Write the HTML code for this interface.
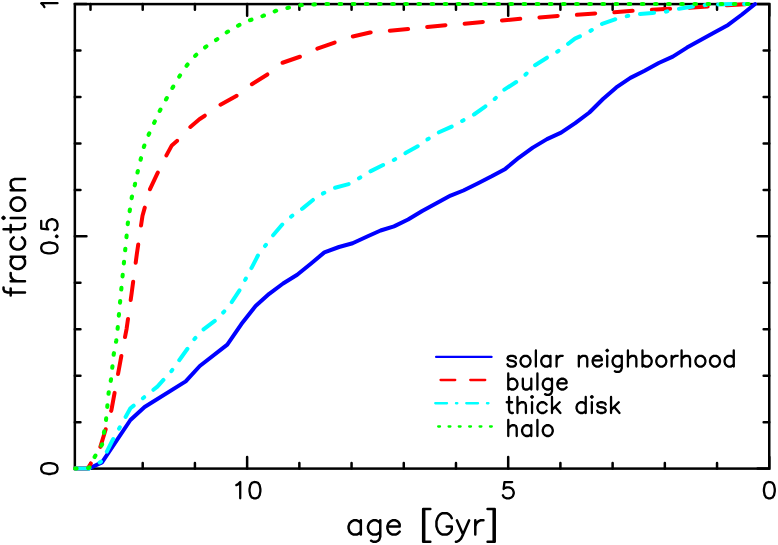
<!DOCTYPE html>
<html><head><meta charset="utf-8"><title>fraction vs age</title>
<style>
html,body{margin:0;padding:0;background:#fff;font-family:"Liberation Sans",sans-serif;}
svg{display:block;}
</style></head>
<body>
<svg width="778" height="545" viewBox="0 0 778 545">
<rect x="0" y="0" width="778" height="545" fill="#fff"/>
<!-- frame + ticks -->
<rect x="74.85" y="4.1" width="694.4" height="464.5" fill="none" stroke="#000" stroke-width="2.5"/>
<path d="M769.25,468.6v-11.6M769.25,4.1v11.6M717.04,468.6v-5.6M717.04,4.1v5.6M664.83,468.6v-5.6M664.83,4.1v5.6M612.62,468.6v-5.6M612.62,4.1v5.6M560.40,468.6v-5.6M560.40,4.1v5.6M508.19,468.6v-11.6M508.19,4.1v11.6M455.98,468.6v-5.6M455.98,4.1v5.6M403.77,468.6v-5.6M403.77,4.1v5.6M351.56,468.6v-5.6M351.56,4.1v5.6M299.35,468.6v-5.6M299.35,4.1v5.6M247.13,468.6v-11.6M247.13,4.1v11.6M194.92,468.6v-5.6M194.92,4.1v5.6M142.71,468.6v-5.6M142.71,4.1v5.6M90.50,468.6v-5.6M90.50,4.1v5.6M74.85,468.60h11.6M769.25,468.60h-11.6M74.85,422.15h5.6M769.25,422.15h-5.6M74.85,375.70h5.6M769.25,375.70h-5.6M74.85,329.25h5.6M769.25,329.25h-5.6M74.85,282.80h5.6M769.25,282.80h-5.6M74.85,236.35h11.6M769.25,236.35h-11.6M74.85,189.90h5.6M769.25,189.90h-5.6M74.85,143.45h5.6M769.25,143.45h-5.6M74.85,97.00h5.6M769.25,97.00h-5.6M74.85,50.55h5.6M769.25,50.55h-5.6M74.85,4.10h11.6M769.25,4.10h-11.6" fill="none" stroke="#000" stroke-width="2.5" stroke-linecap="round"/>
<!-- curves -->
<g fill="none" stroke-linejoin="round" stroke-linecap="round" stroke-width="4">
<polyline points="75.0,468.5 89.0,468.5 102.0,462.4 130.4,420.0 144.6,407.0 185.7,381.4 199.8,366.0 227.3,344.7 241.4,324.1 255.6,306.1 269.2,293.8 283.1,283.5 297.2,274.8 310.8,263.7 324.4,252.4 339.0,247.0 352.6,243.3 367.2,236.5 380.6,230.5 394.0,226.4 408.1,219.5 422.2,211.0 436.4,203.3 450.6,195.6 463.4,190.5 477.6,183.5 491.7,176.3 505.3,168.9 518.7,157.8 532.8,147.6 547.0,139.1 561.1,132.6 575.2,123.1 589.4,112.5 603.0,99.0 616.3,87.4 630.4,77.9 644.6,70.7 658.7,63.0 672.8,56.6 687.0,47.6 701.1,39.8 715.2,32.1 728.1,24.9 742.0,14.5 755.1,4.0" stroke="#0000ff"/>
<polyline points="75.0,468.5 87.0,468.5 89.3,466.0 100.0,448.0 105.5,430.0 111.5,409.7 121.4,355.7 126.6,328.8 131.7,292.8 136.8,254.3 142.5,215.7 149.9,189.4 157.4,173.4 166.4,155.4 171.8,145.4 176.9,141.0 189.6,127.6 199.4,119.2 204.4,116.0 220.2,104.8 236.3,96.0 251.4,84.5 267.5,74.4 281.8,63.0 300.6,56.5 317.0,48.8 335.0,42.4 352.5,36.5 370.0,32.5 389.3,30.8 408.6,29.0 426.6,27.0 445.8,25.2 463.8,23.9 483.1,21.9 501.1,20.6 520.4,18.8 538.4,17.5 559.0,15.9 576.4,14.9 595.7,13.4 613.7,12.3 633.0,10.8 651.0,9.8 669.0,8.8 688.3,7.8 708.8,6.5 725.5,5.4 748.0,4.2 755.0,4.1" stroke="#ff0000" stroke-dasharray="18.35 19.2"/>
<polyline points="75.0,468.5 89.0,468.5 102.1,461.0 112.4,440.5 130.4,408.3 157.4,386.6 171.5,371.0 194.6,338.8 202.9,329.8 215.7,320.2 223.9,311.8 231.6,302.3 240.1,289.4 245.3,279.6 251.7,267.6 258.1,255.2 265.6,245.2 273.0,235.4 282.3,224.5 291.1,216.6 302.7,208.4 313.0,199.9 323.8,193.0 334.8,187.8 349.0,184.0 359.3,178.1 370.8,171.1 383.7,164.7 394.5,159.6 405.5,153.1 418.4,145.9 428.1,139.0 439.0,132.3 452.5,126.2 462.6,120.7 474.0,114.5 484.8,106.8 494.7,99.0 503.7,90.0 517.8,81.0 525.5,74.6 534.5,65.6 548.7,56.6 557.7,51.4 570.0,42.4 574.9,38.6 580.3,36.2 590.6,30.8 602.1,23.9 615.0,19.3 627.8,15.9 639.4,14.1 652.3,12.9 666.4,11.6 680.5,8.5 693.4,6.4 705.0,5.1 719.1,4.4 734.5,4.0 755.0,4.0" stroke="#00ffff" stroke-dasharray="14.1 11.85 1.6 11.85" stroke-dashoffset="-0.25"/>
<polyline points="75.0,468.5 87.0,468.5 89.3,467.5 94.9,456.5 102.1,444.4 106.0,420.0 108.6,393.0 111.1,378.8 113.7,354.4 116.3,340.3 117.6,329.0 120.1,301.8 122.7,274.8 125.3,249.0 127.8,223.4 131.7,197.7 134.8,185.0 137.6,172.1 140.7,159.3 144.0,146.4 148.9,134.1 154.3,122.5 160.0,110.4 166.4,98.8 172.8,87.3 179.8,75.7 187.1,65.0 195.8,55.2 205.5,47.0 216.3,39.8 227.1,32.1 238.9,25.2 250.5,20.0 263.0,15.9 275.4,11.0 288.3,7.7 301.0,5.1 314.0,4.4 326.8,4.0 755.0,4.0" stroke="#00ff00" stroke-width="4.1" stroke-dasharray="1.6 11.54" stroke-dashoffset="0"/>
</g>
<!-- legend -->
<g fill="none" stroke-linecap="round" stroke-width="2.3">
<path d="M436.1,356.9H491.55" stroke="#0000ff"/>
<path d="M440.55,380H455.25M470.25,380H485.25" stroke="#ff0000"/>
<path d="M435.25,403.25H447.05M455.95,403.25h1.4M466.25,403.25H478.05M486.95,403.25h1.5" stroke="#00ffff"/>
<path d="M438.2,426.5h1.8M448.6,426.5h1.8M458.8,426.5h1.8M469.2,426.5h1.8M479.6,426.5h1.8M490,426.5h1.8" stroke="#00ff00"/>
</g>
<!-- text (stroke font) -->
<g fill="none" stroke="#000" stroke-linecap="round" stroke-linejoin="round">
<path stroke-width="2.5" d="M360.83,520.29L360.83,534.60M360.83,523.36L358.79,521.31L356.74,520.29L353.68,520.29L351.63,521.31L349.59,523.36L348.57,526.42L348.57,528.47L349.59,531.53L351.63,533.58L353.68,534.60L356.74,534.60L358.79,533.58L360.83,531.53M380.25,520.29L380.25,536.64L379.23,539.71L378.20,540.73L376.16,541.75L373.09,541.75L371.05,540.73M380.25,523.36L378.20,521.31L376.16,520.29L373.09,520.29L371.05,521.31L369.01,523.36L367.98,526.42L367.98,528.47L369.01,531.53L371.05,533.58L373.09,534.60L376.16,534.60L378.20,533.58L380.25,531.53M387.40,526.42L399.67,526.42L399.67,524.38L398.64,522.34L397.62,521.31L395.58,520.29L392.51,520.29L390.47,521.31L388.42,523.36L387.40,526.42L387.40,528.47L388.42,531.53L390.47,533.58L392.51,534.60L395.58,534.60L397.62,533.58L399.67,531.53M423.17,509.05L423.17,541.75M424.19,509.05L424.19,541.75M423.17,509.05L430.33,509.05M423.17,541.75L430.33,541.75M451.79,518.25L450.77,516.20L448.72,514.16L446.68,513.14L442.59,513.14L440.55,514.16L438.50,516.20L437.48,518.25L436.46,521.31L436.46,526.42L437.48,529.49L438.50,531.53L440.55,533.58L442.59,534.60L446.68,534.60L448.72,533.58L450.77,531.53L451.79,529.49L451.79,526.42M446.68,526.42L451.79,526.42M456.90,520.29L463.03,534.60M469.16,520.29L463.03,534.60L460.99,538.69L458.94,540.73L456.90,541.75L455.88,541.75M475.29,520.29L475.29,534.60M475.29,526.42L476.32,523.36L478.36,521.31L480.40,520.29L483.47,520.29M493.69,509.05L493.69,541.75M494.71,509.05L494.71,541.75M487.56,509.05L494.71,509.05M487.56,541.75L494.71,541.75M3.54,287.38L3.54,289.42L4.56,291.47L7.63,292.49L25.00,292.49M10.69,295.56L10.69,288.40M10.69,281.25L25.00,281.25M16.82,281.25L13.76,280.23L11.71,278.18L10.69,276.14L10.69,273.07M10.69,256.72L25.00,256.72M13.76,256.72L11.71,258.76L10.69,260.81L10.69,263.87L11.71,265.92L13.76,267.96L16.82,268.98L18.87,268.98L21.93,267.96L23.98,265.92L25.00,263.87L25.00,260.81L23.98,258.76L21.93,256.72M13.76,237.30L11.71,239.35L10.69,241.39L10.69,244.46L11.71,246.50L13.76,248.54L16.82,249.57L18.87,249.57L21.93,248.54L23.98,246.50L25.00,244.46L25.00,241.39L23.98,239.35L21.93,237.30M3.54,229.13L20.91,229.13L23.98,228.10L25.00,226.06L25.00,224.02M10.69,232.19L10.69,225.04M3.54,218.91L4.56,217.88L3.54,216.86L2.52,217.88L3.54,218.91M10.69,217.88L25.00,217.88M10.69,205.62L11.71,207.66L13.76,209.71L16.82,210.73L18.87,210.73L21.93,209.71L23.98,207.66L25.00,205.62L25.00,202.55L23.98,200.51L21.93,198.47L18.87,197.44L16.82,197.44L13.76,198.47L11.71,200.51L10.69,202.55L10.69,205.62M10.69,190.29L25.00,190.29M14.78,190.29L11.71,187.22L10.69,185.18L10.69,182.11L11.71,180.07L14.78,179.05L25.00,179.05"/>
<path stroke-width="2.3" d="M515.94,358.16L515.17,356.63L512.87,355.86L510.57,355.86L508.27,356.63L507.50,358.16L508.27,359.70L509.80,360.46L513.64,361.23L515.17,362.00L515.94,363.53L515.94,364.30L515.17,365.83L512.87,366.60L510.57,366.60L508.27,365.83L507.50,364.30M524.38,355.86L522.84,356.63L521.31,358.16L520.54,360.46L520.54,362.00L521.31,364.30L522.84,365.83L524.38,366.60L526.68,366.60L528.21,365.83L529.74,364.30L530.51,362.00L530.51,360.46L529.74,358.16L528.21,356.63L526.68,355.86L524.38,355.86M535.88,350.49L535.88,366.60M550.45,355.86L550.45,366.60M550.45,358.16L548.92,356.63L547.38,355.86L545.08,355.86L543.55,356.63L542.02,358.16L541.25,360.46L541.25,362.00L542.02,364.30L543.55,365.83L545.08,366.60L547.38,366.60L548.92,365.83L550.45,364.30M556.59,355.86L556.59,366.60M556.59,360.46L557.36,358.16L558.89,356.63L560.42,355.86L562.73,355.86M578.83,355.86L578.83,366.60M578.83,358.93L581.13,356.63L582.67,355.86L584.97,355.86L586.50,356.63L587.27,358.93L587.27,366.60M592.64,360.46L601.84,360.46L601.84,358.93L601.08,357.40L600.31,356.63L598.77,355.86L596.47,355.86L594.94,356.63L593.40,358.16L592.64,360.46L592.64,362.00L593.40,364.30L594.94,365.83L596.47,366.60L598.77,366.60L600.31,365.83L601.84,364.30M606.44,350.49L607.21,351.26L607.98,350.49L607.21,349.73L606.44,350.49M607.21,355.86L607.21,366.60M621.78,355.86L621.78,368.13L621.02,370.44L620.25,371.20L618.72,371.97L616.41,371.97L614.88,371.20M621.78,358.16L620.25,356.63L618.72,355.86L616.41,355.86L614.88,356.63L613.35,358.16L612.58,360.46L612.58,362.00L613.35,364.30L614.88,365.83L616.41,366.60L618.72,366.60L620.25,365.83L621.78,364.30M627.92,350.49L627.92,366.60M627.92,358.93L630.22,356.63L631.75,355.86L634.06,355.86L635.59,356.63L636.36,358.93L636.36,366.60M642.49,350.49L642.49,366.60M642.49,358.16L644.03,356.63L645.56,355.86L647.86,355.86L649.40,356.63L650.93,358.16L651.70,360.46L651.70,362.00L650.93,364.30L649.40,365.83L647.86,366.60L645.56,366.60L644.03,365.83L642.49,364.30M660.13,355.86L658.60,356.63L657.07,358.16L656.30,360.46L656.30,362.00L657.07,364.30L658.60,365.83L660.13,366.60L662.43,366.60L663.97,365.83L665.50,364.30L666.27,362.00L666.27,360.46L665.50,358.16L663.97,356.63L662.43,355.86L660.13,355.86M671.64,355.86L671.64,366.60M671.64,360.46L672.41,358.16L673.94,356.63L675.47,355.86L677.77,355.86M681.61,350.49L681.61,366.60M681.61,358.93L683.91,356.63L685.44,355.86L687.75,355.86L689.28,356.63L690.05,358.93L690.05,366.60M699.25,355.86L697.72,356.63L696.18,358.16L695.42,360.46L695.42,362.00L696.18,364.30L697.72,365.83L699.25,366.60L701.55,366.60L703.09,365.83L704.62,364.30L705.39,362.00L705.39,360.46L704.62,358.16L703.09,356.63L701.55,355.86L699.25,355.86M713.82,355.86L712.29,356.63L710.76,358.16L709.99,360.46L709.99,362.00L710.76,364.30L712.29,365.83L713.82,366.60L716.12,366.60L717.66,365.83L719.19,364.30L719.96,362.00L719.96,360.46L719.19,358.16L717.66,356.63L716.12,355.86L713.82,355.86M733.77,350.49L733.77,366.60M733.77,358.16L732.23,356.63L730.70,355.86L728.40,355.86L726.86,356.63L725.33,358.16L724.56,360.46L724.56,362.00L725.33,364.30L726.86,365.83L728.40,366.60L730.70,366.60L732.23,365.83L733.77,364.30M508.27,373.39L508.27,389.50M508.27,381.06L509.80,379.53L511.34,378.76L513.64,378.76L515.17,379.53L516.71,381.06L517.47,383.36L517.47,384.90L516.71,387.20L515.17,388.73L513.64,389.50L511.34,389.50L509.80,388.73L508.27,387.20M522.84,378.76L522.84,386.43L523.61,388.73L525.14,389.50L527.44,389.50L528.98,388.73L531.28,386.43M531.28,378.76L531.28,389.50M537.41,373.39L537.41,389.50M551.99,378.76L551.99,391.03L551.22,393.33L550.45,394.10L548.92,394.87L546.62,394.87L545.08,394.10M551.99,381.06L550.45,379.53L548.92,378.76L546.62,378.76L545.08,379.53L543.55,381.06L542.78,383.36L542.78,384.90L543.55,387.20L545.08,388.73L546.62,389.50L548.92,389.50L550.45,388.73L551.99,387.20M557.36,383.36L566.56,383.36L566.56,381.83L565.79,380.30L565.03,379.53L563.49,378.76L561.19,378.76L559.66,379.53L558.12,381.06L557.36,383.36L557.36,384.90L558.12,387.20L559.66,388.73L561.19,389.50L563.49,389.50L565.03,388.73L566.56,387.20M509.03,396.89L509.03,409.93L509.80,412.23L511.34,413.00L512.87,413.00M506.73,402.26L512.10,402.26M517.47,396.89L517.47,413.00M517.47,405.33L519.77,403.03L521.31,402.26L523.61,402.26L525.14,403.03L525.91,405.33L525.91,413.00M531.28,396.89L532.04,397.66L532.81,396.89L532.04,396.13L531.28,396.89M532.04,402.26L532.04,413.00M546.62,404.56L545.08,403.03L543.55,402.26L541.25,402.26L539.72,403.03L538.18,404.56L537.41,406.86L537.41,408.40L538.18,410.70L539.72,412.23L541.25,413.00L543.55,413.00L545.08,412.23L546.62,410.70M551.99,396.89L551.99,413.00M559.66,402.26L551.99,409.93M555.05,406.86L560.42,413.00M585.74,396.89L585.74,413.00M585.74,404.56L584.20,403.03L582.67,402.26L580.37,402.26L578.83,403.03L577.30,404.56L576.53,406.86L576.53,408.40L577.30,410.70L578.83,412.23L580.37,413.00L582.67,413.00L584.20,412.23L585.74,410.70M591.10,396.89L591.87,397.66L592.64,396.89L591.87,396.13L591.10,396.89M591.87,402.26L591.87,413.00M605.68,404.56L604.91,403.03L602.61,402.26L600.31,402.26L598.01,403.03L597.24,404.56L598.01,406.10L599.54,406.86L603.38,407.63L604.91,408.40L605.68,409.93L605.68,410.70L604.91,412.23L602.61,413.00L600.31,413.00L598.01,412.23L597.24,410.70M611.05,396.89L611.05,413.00M618.72,402.26L611.05,409.93M614.11,406.86L619.48,413.00M508.27,419.89L508.27,436.00M508.27,428.33L510.57,426.03L512.10,425.26L514.40,425.26L515.94,426.03L516.71,428.33L516.71,436.00M531.28,425.26L531.28,436.00M531.28,427.56L529.74,426.03L528.21,425.26L525.91,425.26L524.38,426.03L522.84,427.56L522.07,429.86L522.07,431.40L522.84,433.70L524.38,435.23L525.91,436.00L528.21,436.00L529.74,435.23L531.28,433.70M537.41,419.89L537.41,436.00M546.62,425.26L545.08,426.03L543.55,427.56L542.78,429.86L542.78,431.40L543.55,433.70L545.08,435.23L546.62,436.00L548.92,436.00L550.45,435.23L551.99,433.70L552.75,431.40L552.75,429.86L551.99,427.56L550.45,426.03L548.92,425.26L546.62,425.26"/>
<path stroke-width="2.3" d="M236.35,485.12L237.90,484.35L240.22,482.03L240.22,498.30M254.17,482.03L251.85,482.80L250.30,485.12L249.52,489.00L249.52,491.32L250.30,495.20L251.85,497.53L254.17,498.30L255.72,498.30L258.05,497.53L259.60,495.20L260.38,491.32L260.38,489.00L259.60,485.12L258.05,482.80L255.72,482.03L254.17,482.03M512.17,482.03L504.43,482.03L503.65,489.00L504.43,488.23L506.75,487.45L509.07,487.45L511.40,488.23L512.95,489.78L513.73,492.10L513.73,493.65L512.95,495.98L511.40,497.53L509.07,498.30L506.75,498.30L504.43,497.53L503.65,496.75L502.88,495.20M768.58,482.03L766.25,482.80L764.70,485.12L763.93,489.00L763.93,491.32L764.70,495.20L766.25,497.53L768.58,498.30L770.12,498.30L772.45,497.53L774.00,495.20L774.77,491.32L774.77,489.00L774.00,485.12L772.45,482.80L770.12,482.03L768.58,482.03M41.22,469.32L42.00,471.65L44.33,473.20L48.20,473.98L50.52,473.98L54.40,473.20L56.73,471.65L57.50,469.32L57.50,467.78L56.73,465.45L54.40,463.90L50.52,463.12L48.20,463.12L44.33,463.90L42.00,465.45L41.22,467.78L41.22,469.32M41.22,248.72L42.00,251.05L44.33,252.60L48.20,253.38L50.52,253.38L54.40,252.60L56.73,251.05L57.50,248.72L57.50,247.17L56.73,244.85L54.40,243.30L50.52,242.52L48.20,242.52L44.33,243.30L42.00,244.85L41.22,247.17L41.22,248.72M55.95,236.32L56.73,237.10L57.50,236.32L56.73,235.55L55.95,236.32M41.22,220.82L41.22,228.57L48.20,229.35L47.42,228.57L46.65,226.25L46.65,223.92L47.42,221.60L48.98,220.05L51.30,219.27L52.85,219.27L55.17,220.05L56.73,221.60L57.50,223.92L57.50,226.25L56.73,228.57L55.95,229.35L54.40,230.12M44.33,7.10L43.55,5.55L41.22,3.22L57.50,3.22"/>
</g>
</svg>
</body></html>
